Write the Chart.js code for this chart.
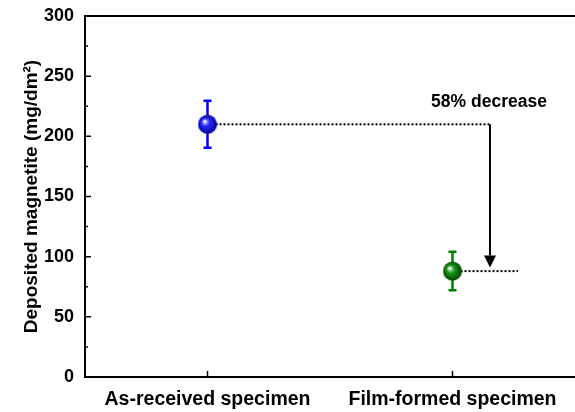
<!DOCTYPE html>
<html>
<head>
<meta charset="utf-8">
<script src="https://cdn.jsdelivr.net/npm/chart.js@4.4.0/dist/chart.umd.min.js"></script>
<style>
  html, body { margin: 0; padding: 0; background: #fff; }
  #wrap { width: 575px; height: 412px; }
</style>
</head>
<body>
<div id="wrap"><canvas id="chart"></canvas></div>
<script>
// Chart values
const categories = ['As-received specimen', 'Film-formed specimen'];
const magnetite = [210, 88];
const errors = [19.5, 16];
const pointColors = ['#0000ff', '#008000'];
const decreaseLabel = '58% decrease';
const arrowX = 1.153;      // arrow shaft position on the x scale
const greenLineEnd = 1.267; // end of the dotted guide at the lower value
const arrowTip = 91;

Chart.defaults.font.family = 'Arial, "Liberation Sans", sans-serif';
Chart.defaults.font.weight = 'bold';
Chart.defaults.color = '#000';

// Shiny sphere used as point marker
function sphere(color, dark) {
    const c = document.createElement('canvas');
    c.width = 20; c.height = 20;
    const g = c.getContext('2d');
    const grad = g.createRadialGradient(7, 7, 0.5, 10, 10, 10);
    grad.addColorStop(0, '#ffffff');
    grad.addColorStop(0.35, color);
    grad.addColorStop(1, dark);
    g.fillStyle = grad;
    g.beginPath();
    g.arc(10, 10, 9.5, 0, Math.PI * 2);
    g.fill();
    return c;
}
const markers = [sphere('#2a2aff', '#00008a'), sphere('#1a991a', '#004000')];

const extras = {
    id: 'extras',
    beforeDatasetsDraw(chart) {
        const {ctx, scales: {x, y}} = chart;
        ctx.save();
        ctx.lineWidth = 2.5;
        magnetite.forEach((v, i) => {
            const px = x.getPixelForValue(i);
            const top = y.getPixelForValue(v + errors[i]);
            const bot = y.getPixelForValue(v - errors[i]);
            ctx.strokeStyle = pointColors[i];
            ctx.beginPath();
            ctx.moveTo(px, top); ctx.lineTo(px, bot);
            ctx.moveTo(px - 4, top); ctx.lineTo(px + 4, top);
            ctx.moveTo(px - 4, bot); ctx.lineTo(px + 4, bot);
            ctx.stroke();
        });
        ctx.restore();
    },
    afterDatasetsDraw(chart) {
        const {ctx, chartArea, scales: {x, y}} = chart;
        ctx.save();
        // arrow head
        const ax = x.getPixelForValue(arrowX);
        const ay = y.getPixelForValue(arrowTip);
        ctx.fillStyle = '#000';
        ctx.beginPath();
        ctx.moveTo(ax, ay);
        ctx.lineTo(ax - 6, ay - 12);
        ctx.lineTo(ax + 6, ay - 12);
        ctx.closePath();
        ctx.fill();
        // annotation
        ctx.font = 'bold 17.5px Arial, "Liberation Sans", sans-serif';
        ctx.textAlign = 'center';
        ctx.textBaseline = 'middle';
        ctx.fillText(decreaseLabel, ax - 1, y.getPixelForValue(228));
        // frame top line
        ctx.strokeStyle = '#000';
        ctx.lineWidth = 2;
        ctx.beginPath();
        ctx.moveTo(chartArea.left, chartArea.top);
        ctx.lineTo(chartArea.right, chartArea.top);
        ctx.stroke();
        // inward ticks
        ctx.lineWidth = 1.5;
        ctx.beginPath();
        for (let v = 0; v <= 300; v += 25) {
            const py = y.getPixelForValue(v);
            const len = v % 50 === 0 ? 6 : 3;
            ctx.moveTo(chartArea.left, py);
            ctx.lineTo(chartArea.left + len, py);
        }
        categories.forEach((c, i) => {
            const px = x.getPixelForValue(i);
            ctx.moveTo(px, chartArea.bottom);
            ctx.lineTo(px, chartArea.bottom - 6);
        });
        ctx.stroke();
        ctx.restore();
    }
};

const ctx = document.getElementById('chart').getContext('2d');
const chart = new Chart(ctx, {
    type: 'scatter',
    data: {
        datasets: [
            {
                label: 'Deposited magnetite',
                data: magnetite.map((v, i) => ({x: i, y: v})),
                pointStyle: markers,
                pointRadius: 9,
                order: 0
            },
            {
                type: 'line',
                data: [{x: 0, y: magnetite[0]}, {x: arrowX, y: magnetite[0]}],
                borderColor: '#000',
                borderWidth: 2,
                borderDash: [2, 2],
                pointRadius: 0,
                order: 2
            },
            {
                type: 'line',
                data: [{x: 1, y: magnetite[1]}, {x: greenLineEnd, y: magnetite[1]}],
                borderColor: '#000',
                borderWidth: 2,
                borderDash: [2, 2],
                pointRadius: 0,
                order: 2
            },
            {
                type: 'line',
                data: [{x: arrowX, y: magnetite[0]}, {x: arrowX, y: arrowTip + 10}],
                borderColor: '#000',
                borderWidth: 2,
                pointRadius: 0,
                order: 1
            }
        ]
    },
    options: {
        responsive: true,
        maintainAspectRatio: false,
        animation: false,
        layout: { autoPadding: false, padding: { left: 16, top: 16, right: 0, bottom: 0 } },
        scales: {
            x: {
                type: 'linear',
                min: -0.5,
                max: 1.5,
                grid: { display: false, drawTicks: false },
                border: { color: '#000', width: 2 },
                afterBuildTicks: s => { s.ticks = categories.map((c, i) => ({value: i})); },
                afterFit: s => { s.height = 35; s.paddingLeft = 0; s.paddingRight = 0; },
                ticks: {
                    padding: 11,
                    maxRotation: 0,
                    font: { size: 19.5, weight: 'bold' },
                    callback: v => categories[v]
                }
            },
            y: {
                min: 0,
                max: 300,
                grid: { display: false, drawTicks: false },
                border: { color: '#000', width: 2 },
                afterFit: s => { s.width = 69; s.paddingTop = 0; s.paddingBottom = 0; },
                ticks: {
                    stepSize: 50,
                    padding: 11,
                    font: { size: 18, weight: 'bold' }
                },
                title: {
                    display: true,
                    text: 'Deposited magnetite (mg/dm²)',
                    font: { size: 19, weight: 'bold' }
                }
            }
        },
        plugins: {
            legend: { display: false },
            tooltip: { enabled: false }
        }
    },
    plugins: [extras]
});
</script>
</body>
</html>
